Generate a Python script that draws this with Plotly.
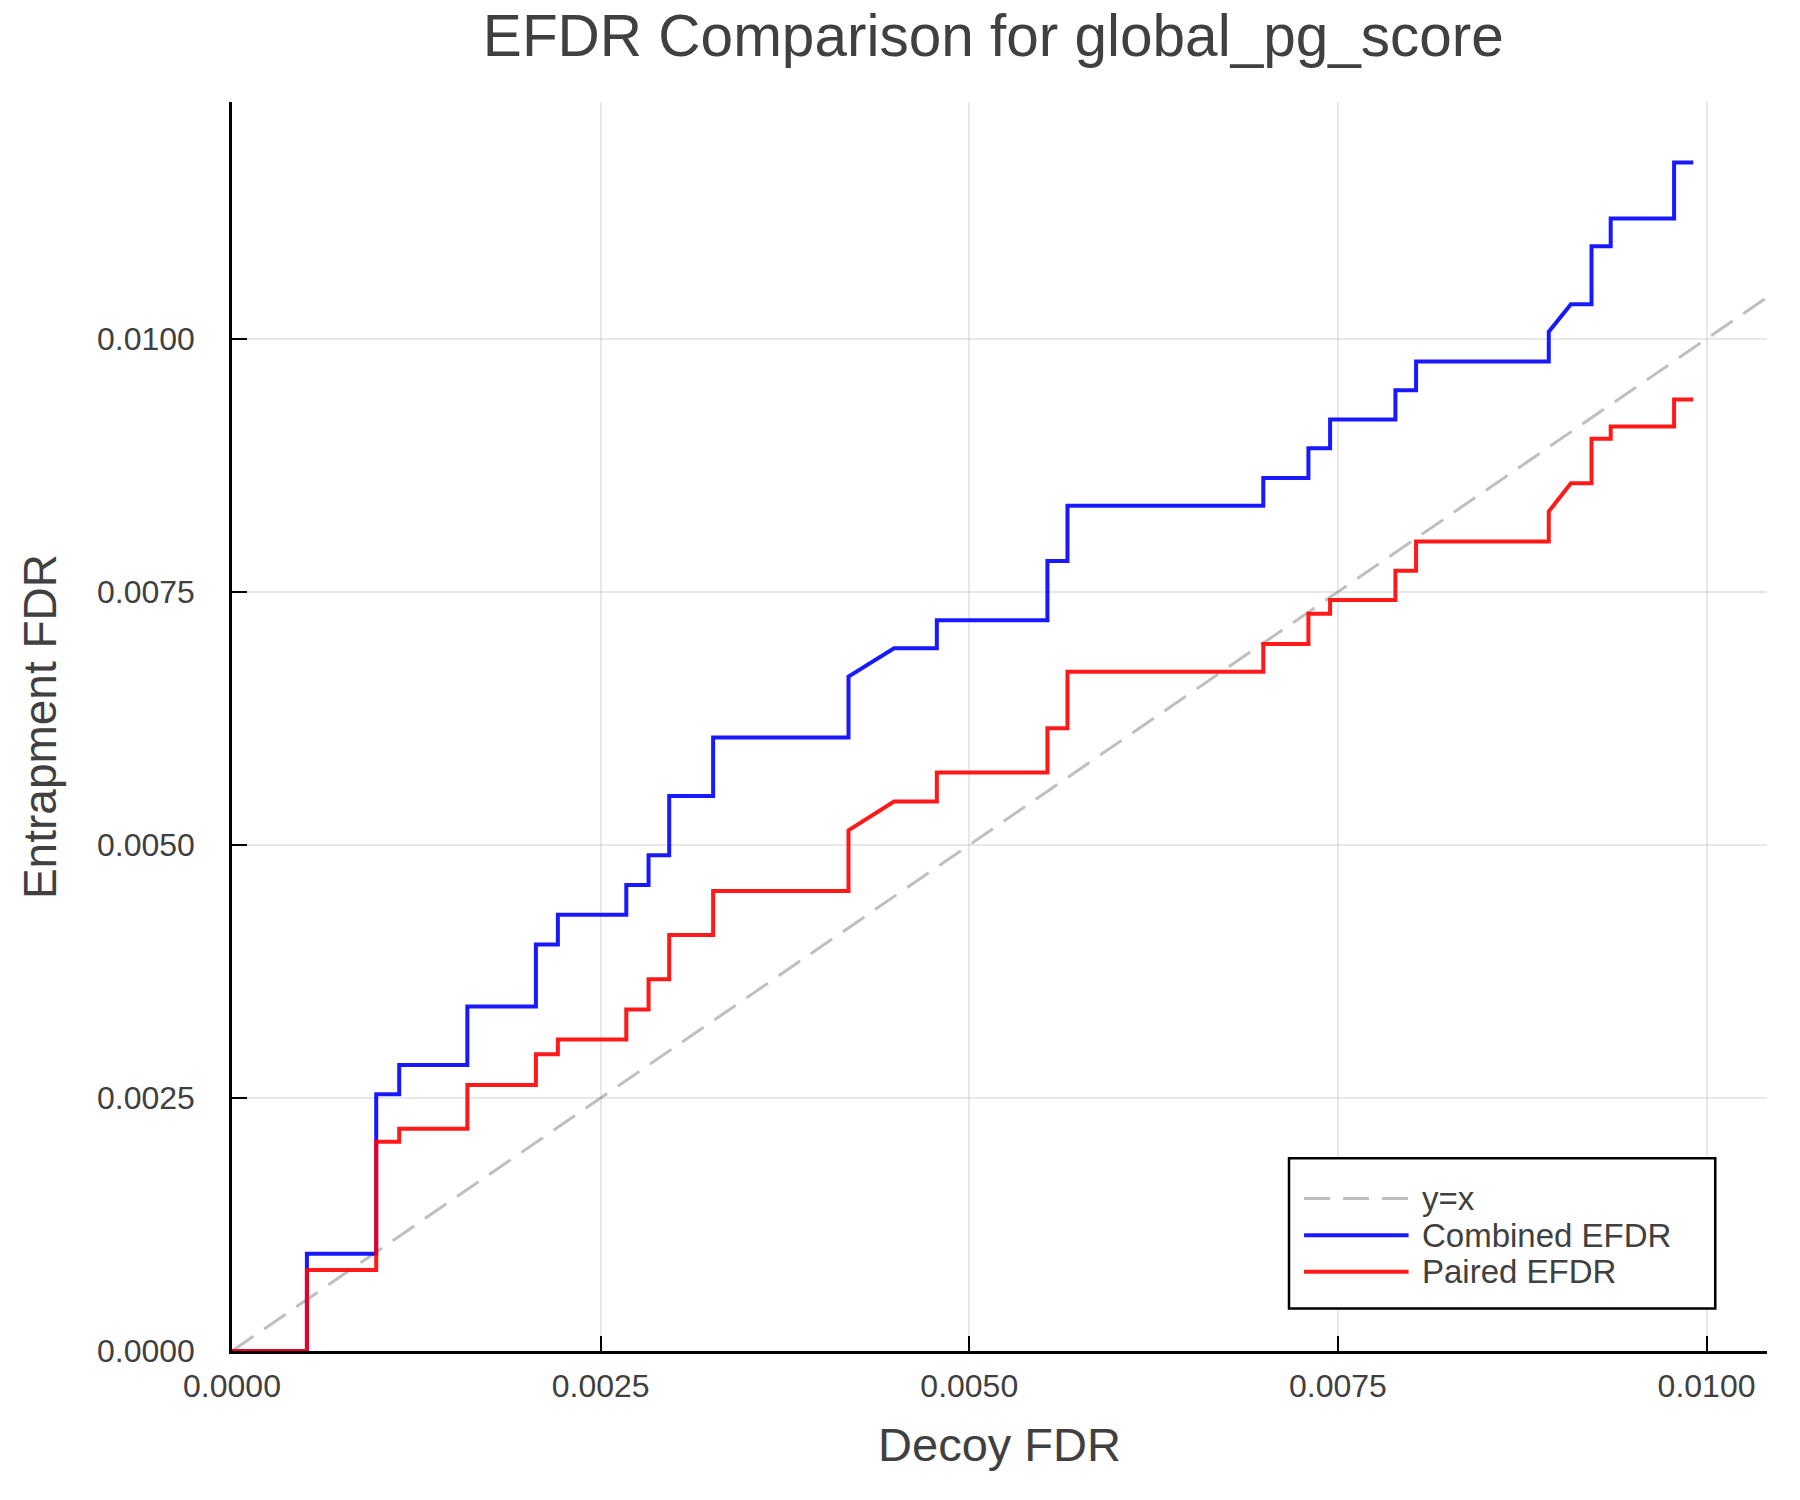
import plotly.graph_objects as go

# Shared decoy-FDR breakpoints (x) for both curves
decoy_fdr = [
    0.0, 0.000508, 0.000508, 0.000978, 0.000978, 0.001134, 0.001134, 0.001596,
    0.001596, 0.002061, 0.002061, 0.00221, 0.00221, 0.002674, 0.002674, 0.002825,
    0.002825, 0.002965, 0.002965, 0.003263, 0.003263, 0.004181, 0.004181, 0.00449,
    0.00478, 0.00478, 0.00553, 0.00553, 0.005666, 0.005666, 0.006994, 0.006994,
    0.0073, 0.0073, 0.007447, 0.007447, 0.00789, 0.00789, 0.00803, 0.00803,
    0.00893, 0.00893, 0.00908, 0.00922, 0.00922, 0.00935, 0.00935, 0.00978,
    0.00978, 0.00991,
]

combined_efdr = [
    0.0, 0.0, 0.000962, 0.000962, 0.002537, 0.002537, 0.002826, 0.002826,
    0.003403, 0.003403, 0.004015, 0.004015, 0.00431, 0.00431, 0.004605, 0.004605,
    0.004898, 0.004898, 0.005484, 0.005484, 0.006061, 0.006061, 0.006663, 0.006942,
    0.006942, 0.00722, 0.00722, 0.007806, 0.007806, 0.00835, 0.00835, 0.008624,
    0.008624, 0.00892, 0.00892, 0.009204, 0.009204, 0.009493, 0.009493, 0.009775,
    0.009775, 0.01007, 0.010343, 0.010343, 0.010916, 0.010916, 0.011189, 0.011189,
    0.011742, 0.011742,
]

paired_efdr = [
    0.0, 0.0, 0.0008, 0.0008, 0.002068, 0.002068, 0.002197, 0.002197,
    0.002628, 0.002628, 0.002931, 0.002931, 0.003078, 0.003078, 0.003375, 0.003375,
    0.003673, 0.003673, 0.004111, 0.004111, 0.004545, 0.004545, 0.005145, 0.005428,
    0.005428, 0.005715, 0.005715, 0.006153, 0.006153, 0.00671, 0.00671, 0.006986,
    0.006986, 0.007283, 0.007283, 0.007421, 0.007421, 0.00771, 0.00771, 0.007997,
    0.007997, 0.008294, 0.008574, 0.008574, 0.009012, 0.009012, 0.009134, 0.009134,
    0.0094, 0.0094,
]

diag = [0.0, 0.0106]

tick_vals = [0.0, 0.0025, 0.005, 0.0075, 0.01]
tick_text = ["0.0000", "0.0025", "0.0050", "0.0075", "0.0100"]

series_names = ["y=x", "Combined EFDR", "Paired EFDR"]

FONT = "Liberation Sans, Arial, Helvetica, sans-serif"
TXT = "#404040"
DASH = "26px,13px"
styles = [
    dict(color="rgba(128,128,128,0.5)", width=3, dash=DASH),
    dict(color="rgba(0,0,255,0.9)", width=4),
    dict(color="rgba(255,0,0,0.9)", width=4),
]

fig = go.Figure()
for name, xs, ys, st in zip(series_names,
                            [diag, decoy_fdr, decoy_fdr],
                            [diag, combined_efdr, paired_efdr],
                            styles):
    fig.add_trace(go.Scatter(x=xs, y=ys, mode="lines", name=name, line=st))

axis_common = dict(
    tickvals=tick_vals, ticktext=tick_text,
    showgrid=True, gridcolor="rgba(0,0,0,0.09)", gridwidth=1.5,
    zeroline=False, showline=True, linecolor="black", linewidth=2.5,
    ticks="inside", ticklen=15, tickwidth=2, tickcolor="black",
    tickfont=dict(family=FONT, size=32, color=TXT),
    mirror=False, layer="below traces",
)

# Hand-drawn legend box (paper coordinates of the plot area)
leg_box = (0.6886, 0.0340, 0.9663, 0.1543)
leg_line_x = (0.6984, 0.7665)
leg_rows = [0.1221, 0.0927, 0.0634]
leg_text_x = 0.7740

shapes = [dict(type="rect", xref="paper", yref="paper",
               x0=leg_box[0], y0=leg_box[1], x1=leg_box[2], y1=leg_box[3],
               line=dict(color="black", width=2.5), fillcolor="white", layer="above")]
annotations = []
for name, st, yy in zip(series_names, styles, leg_rows):
    shapes.append(dict(type="line", xref="paper", yref="paper",
                       x0=leg_line_x[0], x1=leg_line_x[1], y0=yy, y1=yy,
                       line=dict(color=st["color"], width=st["width"],
                                 dash=st.get("dash", "solid")),
                       layer="above"))
    annotations.append(dict(text=name, xref="paper", yref="paper",
                            x=leg_text_x, y=yy, xanchor="left", yanchor="middle",
                            showarrow=False,
                            font=dict(family=FONT, size=33, color=TXT)))

fig.update_layout(
    width=1800, height=1500,
    margin=dict(l=224, r=41, t=94, b=157, autoexpand=False),
    paper_bgcolor="white", plot_bgcolor="white",
    title=dict(text="EFDR Comparison for global_pg_score",
               font=dict(family=FONT, size=58.5, color=TXT),
               x=0.496, xref="paper", xanchor="center",
               y=1 - 7 / 1500, yref="container", yanchor="top"),
    xaxis=dict(range=[0, 0.01041],
               title=dict(text="Decoy FDR", font=dict(family=FONT, size=47, color=TXT), standoff=25),
               ticklabelstandoff=5,
               **axis_common),
    yaxis=dict(range=[0, 0.01234],
               title=dict(text="Entrapment FDR", font=dict(family=FONT, size=46, color=TXT), standoff=26),
               ticklabelstandoff=28,
               **axis_common),
    showlegend=False,
    shapes=shapes,
    annotations=annotations,
)

fig.write_html("out.html")
